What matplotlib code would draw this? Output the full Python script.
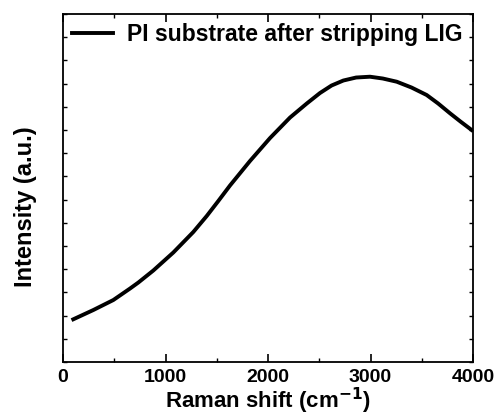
import numpy as np
import matplotlib
matplotlib.use('Agg')
import matplotlib.pyplot as plt
from matplotlib.ticker import MultipleLocator, NullFormatter

# Raman spectrum of PI substrate
shift = [100, 296, 491, 654, 735, 881, 1076, 1271, 1402, 1515, 1629, 1824,
         2020, 2215, 2378, 2507, 2620, 2735, 2860, 2995, 3120, 3256, 3400,
         3548, 3660, 3776, 3880, 3987]
intensity = [42.7, 52.0, 62.0, 73.5, 79.5, 91.5, 109.5, 130.0, 146.0, 161.0,
             176.5, 201.0, 224.0, 244.5, 258.5, 269.0, 276.5, 281.5, 284.5,
             285.3, 283.5, 280.3, 274.5, 267.0, 258.5, 248.7, 240.3, 232.0]
legend_label = 'PI substrate after stripping LIG'

plt.rcParams['font.family'] = ['Liberation Sans', 'DejaVu Sans']
plt.rcParams['font.weight'] = 'bold'
plt.rcParams['mathtext.default'] = 'bf'

fig = plt.figure(figsize=(4.99, 4.16), dpi=100)
ax = fig.add_axes([0.1263, 0.1298, 0.8216, 0.8365])

ax.plot(shift, intensity, color='black', lw=2.8, label=legend_label)

ax.set_xlim(0, 4000)
ax.set_ylim(0, 348)
ax.xaxis.set_major_locator(MultipleLocator(1000))
ax.xaxis.set_minor_locator(MultipleLocator(500))
ax.yaxis.set_major_locator(MultipleLocator(23.2))
ax.yaxis.set_major_formatter(NullFormatter())
ax.tick_params(axis='x', which='major', direction='in', length=6, width=1.2,
               top=True, labelsize=14, pad=5)
ax.tick_params(axis='x', which='minor', direction='in', length=3, width=1.0, top=True)
ax.tick_params(axis='y', which='major', direction='in', length=3, width=1.0, right=True)
for lab in ax.get_xticklabels():
    lab.set_fontweight('bold')
for sp in ax.spines.values():
    sp.set_linewidth(1.3)

ax.set_xlabel('Raman shift (cm$^{-1}$)', fontsize=16, fontweight='bold', labelpad=0)
ax.set_ylabel('Intensity (a.u.)', fontsize=17, fontweight='bold')
ax.yaxis.set_label_coords(-0.063, 0.445)

leg = ax.legend(loc='upper left', frameon=False, fontsize=16.5, handlelength=1.8,
                borderaxespad=0.1, handletextpad=0.6, borderpad=0.3)
for t in leg.get_texts():
    t.set_fontweight('bold')

fig.savefig('out.png', dpi=100)
